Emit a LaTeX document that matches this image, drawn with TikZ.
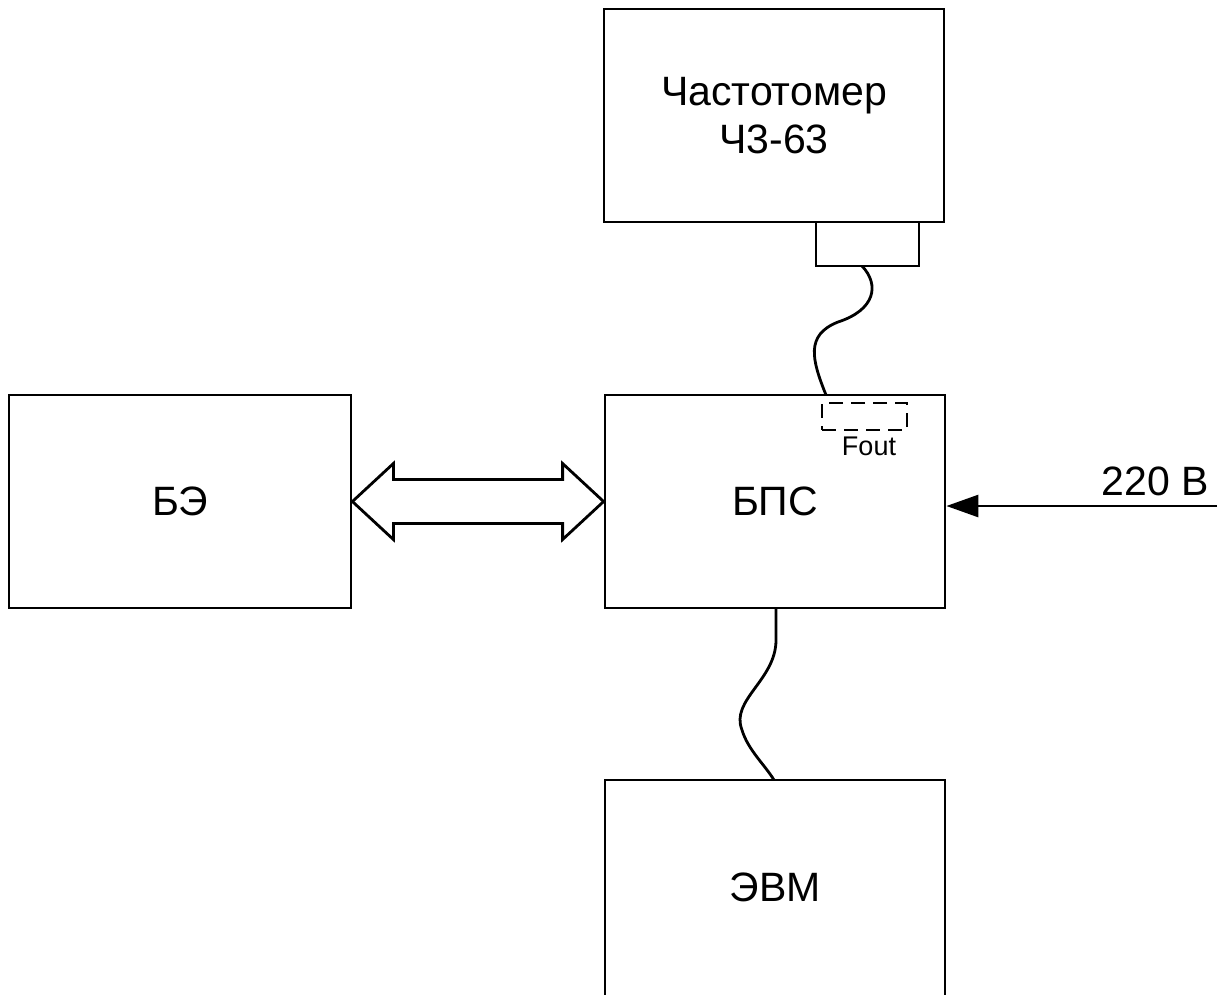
\documentclass[tikz,border=0pt]{standalone}
\usepackage{fontspec}
\setmainfont{Liberation Sans}
\usetikzlibrary{arrows.meta,calc}
\tikzset{
  blk/.style={draw, line width=2.8pt, fill=white, inner sep=0pt, font=\fontsize{41}{48}\selectfont, align=center},
  wire/.style={line width=2.8pt},
}
\begin{document}
\begin{tikzpicture}[x=1pt,y=-1pt]
\useasboundingbox (0,0) rectangle (1231,994);
\clip (0,0) rectangle (1231,994);
\fill[white] (0,0) rectangle (1231,994);
% blocks
\node[blk, minimum width=340pt, minimum height=213pt] (cz) at (774,115.5) {Частотомер\\Ч3-63};
\node[blk, minimum width=103pt, minimum height=44pt] (conn) at (867.5,244) {};
\node[blk, minimum width=342pt, minimum height=213pt] (be) at (180,501.5) {БЭ};
\node[blk, minimum width=340pt, minimum height=213pt] (bps) at (775,501.5) {БПС};
\node[blk, minimum width=340pt, minimum height=240pt] (evm) at (775,900) {};
\node[font=\fontsize{41}{48}\selectfont] (evmt) at (775,887) {ЭВМ};
% Fout port
\node[draw, dashed, line width=2.2pt, dash pattern=on 14pt off 8pt, minimum width=85pt, minimum height=27pt, inner sep=0pt] (fout) at (864.5,416.5) {};
\node[font=\fontsize{27}{30}\selectfont, inner sep=0pt] (foutl) at (869,446) {Fout};
% double arrow between BE and BPS
\coordinate (L) at (be.east);
\coordinate (R) at (bps.west);
\draw[wire, line join=miter, fill=white]
  (L) -- ($(L)+(41,-38)$) -- ($(L)+(41,-22)$) -- ($(R)+(-41,-22)$) -- ($(R)+(-41,-38)$) -- (R)
  -- ($(R)+(-41,38)$) -- ($(R)+(-41,22)$) -- ($(L)+(41,22)$) -- ($(L)+(41,38)$) -- cycle;
% cable from frequency meter to BPS
\coordinate (c1) at (862,266);
\coordinate (c2) at (826,395);
\draw[wire] (c1) .. controls (880,285) and (875,310) .. (838,322)
  .. controls (805,335) and (812,360) .. (c2);
% cable from BPS to EVM
\coordinate (e1) at (776,609);
\coordinate (e2) at (774,780);
\draw[wire] (e1) -- (776,640) .. controls (776,680) and (730,700) .. (742,730)
  .. controls (748,750) and (765,765) .. (e2);
% 220 V input
\coordinate (p220) at (1217,506);
\draw[wire, -{Triangle[length=32pt, width=22pt]}] (p220) -- (bps.east |- p220);
\node[font=\fontsize{41}{48}\selectfont, anchor=south east, inner sep=0pt] (v220) at (1209,496) {220 В};
\end{tikzpicture}
\end{document}
